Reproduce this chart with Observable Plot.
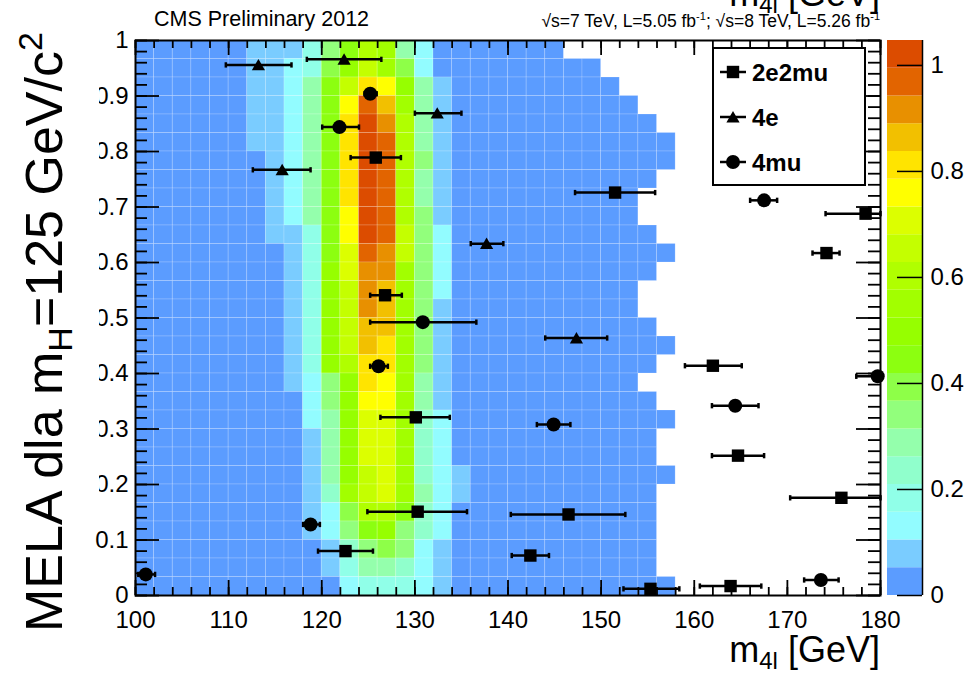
<!DOCTYPE html>
<html><head><meta charset="utf-8">
<script src="https://cdn.jsdelivr.net/npm/d3@7"></script>
<script src="https://cdn.jsdelivr.net/npm/@observablehq/plot@0.6"></script>
<style>
body{margin:0;background:#fff;}
#wrap{position:relative;width:971px;height:674px;overflow:hidden;font-family:"Liberation Sans",Arial,Helvetica,sans-serif;}
#wrap svg{position:absolute;top:0;}
</style></head><body><div id="wrap"></div>
<script>
// ---------- DATA ----------
// colour bands (20 contours) of the 2D template, bottom to top
const bandColors = ["#5b9cff","#7accff","#92fcff","#90ffe8","#90ffcc","#94ffac","#92ff7c","#8eff48","#8cff10","#96ff00",
                    "#a2ff00","#b0ff00","#c4ff00","#dcff00","#ffff00","#ffe400","#f2c000","#e89000","#e26400","#dc4c00"];
const bandEdges = [0,0.0524,0.1047,0.1571,0.2094,0.2618,0.3141,0.3665,0.4188,0.4712,0.5235,
                   0.5759,0.6282,0.6806,0.7329,0.7853,0.8376,0.8900,0.9423,0.9947,1.047];
// band index (base-20 digit) of each bin for m4l bins 110..136 GeV (2 GeV wide),
// MELA rows from top (0.967-1) to bottom (0-0.033)
const coreBinsFrom = 110;
const coreRows = [
 "0111368ba5200","0112379ca7200","011258cfe9510","011258eiga510","011258fjhb510","011258fjib510",
 "001258fjib610","001258fjib510","001258fjib510","001258ejib610","001138ejic620","000138dihc620",
 "000139dhha620","000139chga620","000139chga610","000139cgga610","000139cgfa610","000139bffa610",
 "0001269fea510","0000269eea510","0000259dda420","0000159dda420","0000159dda420","0000159cda421",
 "000014acda521","0000127bb8420","0000126896420","0000014676210","0000013554210","0000002333210"];
// upper m4l edge of the filled (non-empty) region in each row, top to bottom
const filledTo = [146,150,152,154,156,158,158,156,154,154,156,158,156,154,154,156,158,156,154,156,158,156,156,158,156,156,156,156,156,158];

// events: [m4l, MELA, m4l error low, m4l error high]
const ev2e2mu = [[125.8,0.789,123.1,128.5],[126.8,0.541,125.2,128.6],[151.5,0.726,147.2,155.8],[178.4,0.688,174.1,180],
  [174.2,0.617,172.7,175.6],[162.0,0.414,159.0,165.1],[164.7,0.252,161.9,167.5],[175.8,0.176,170.3,180],
  [146.5,0.146,140.3,152.6],[142.4,0.072,140.4,144.4],[155.3,0.012,152.4,158.4],[163.9,0.017,160.6,167.2],
  [130.1,0.321,126.3,133.75],[130.3,0.151,124.9,135.6],[122.55,0.080,119.6,125.5]];
const ev4e = [[113.2,0.956,109.7,116.75],[122.4,0.966,118.4,126.4],[132.4,0.869,130.0,135.0],[115.75,0.767,112.6,118.8],
  [137.7,0.634,136.0,139.5],[147.35,0.464,144.0,150.65]];
const ev4mu = [[125.2,0.904,124.6,125.9],[121.9,0.844,120.05,124.0],[130.85,0.4925,125.2,136.6],[167.5,0.712,166.0,168.9],
  [126.1,0.413,125.2,127.1],[179.7,0.395,177.4,180],[164.4,0.342,161.9,166.9],[144.9,0.308,143.1,146.7],
  [118.8,0.128,118.0,119.8],[101.1,0.038,100.3,102.1],[173.6,0.028,171.8,175.5]];

const xTicks = [100,110,120,130,140,150,160,170,180];
const yTicks = [0,0.1,0.2,0.3,0.4,0.5,0.6,0.7,0.8,0.9,1];
const zTicks = [0,0.2,0.4,0.6,0.8,1];
const channels = ["2e2mu","4e","4mu"];

// ---------- BUILD ----------
const FONT = '"Liberation Sans", Arial, Helvetica, sans-serif';
const mBinEdges = d3.range(100, 182, 2);
const nRows = coreRows.length;
const cells = [];
coreRows.forEach((s, r) => {
  const y2 = 1 - r / nRows, y1 = 1 - (r + 1) / nRows;
  for (let i = 0; i < mBinEdges.length - 1; i++) {
    const x1 = mBinEdges[i], x2 = mBinEdges[i + 1];
    if (x2 > filledTo[r]) continue;
    const j = (x1 - coreBinsFrom) / 2;
    const level = (j >= 0 && j < s.length) ? parseInt(s[j], 20) : 0;
    cells.push({x1, x2, y1, y2, level});
  }
});
const toObj = ch => a => ({ch, x: a[0], y: a[1], lo: a[2], hi: a[3]});
const events = [...ev2e2mu.map(toObj("2e2mu")), ...ev4e.map(toObj("4e")), ...ev4mu.map(toObj("4mu"))];
const capSymbol = {draw(ctx, size) { const h = Math.sqrt(size) / 2; ctx.moveTo(0, -h); ctx.lineTo(0, h); }};

const W = 971, H = 674, mL = 135, mR = 91, mT = 40, mB = 79;
const iW = W - mL - mR, iH = H - mT - mB;
const fmt = d3.format("~g");
const colorScale = {type: "ordinal", domain: d3.range(20), range: bandColors};
const tk = {stroke: "black", strokeWidth: 1.8};

const main = Plot.plot({
  width: W, height: H, marginLeft: mL, marginRight: mR, marginTop: mT, marginBottom: mB,
  style: {fontFamily: FONT, fontSize: "24px", color: "black", background: "transparent", overflow: "visible"},
  x: {domain: [100, 180], ticks: xTicks, tickSize: 0, tickPadding: 15, tickFormat: fmt, label: null},
  y: {domain: [0, 1], ticks: yTicks, tickSize: 0, tickPadding: 7, tickFormat: fmt, label: null},
  color: colorScale,
  symbol: {domain: channels, range: ["square", "triangle", "circle"]},
  marks: [
    Plot.rect(cells, {x1: "x1", x2: "x2", y1: "y1", y2: "y2", fill: "level", stroke: "white", strokeOpacity: 0.22, strokeWidth: 0.8}),
    Plot.ruleX(d3.range(100, 181, 2), {insetTop: iH - 8, ...tk}),
    Plot.ruleX(xTicks, {insetTop: iH - 15, ...tk}),
    Plot.ruleX(d3.range(100, 181, 2), {insetBottom: iH - 8, ...tk}),
    Plot.ruleX(xTicks, {insetBottom: iH - 15, ...tk}),
    Plot.ruleY(d3.range(0, 51).map(i => i / 50), {insetRight: iW - 12, ...tk}),
    Plot.ruleY(yTicks, {insetRight: iW - 24, ...tk}),
    Plot.ruleY(d3.range(0, 51).map(i => i / 50), {insetLeft: iW - 12, ...tk}),
    Plot.ruleY(yTicks, {insetLeft: iW - 24, ...tk}),
    Plot.frame({stroke: "black", strokeWidth: 2}),
    Plot.ruleY(events, {y: "y", x1: "lo", x2: "hi", stroke: "black", strokeWidth: 2.5}),
    Plot.dot(events, {x: "lo", y: "y", symbol: () => capSymbol, r: 3, stroke: "black", strokeWidth: 2.5, fill: "none"}),
    Plot.dot(events, {x: "hi", y: "y", symbol: () => capSymbol, r: 3, stroke: "black", strokeWidth: 2.5, fill: "none"}),
    Plot.dot(events.filter(d => d.ch === "2e2mu"), {x: "x", y: "y", symbol: "ch", r: 7, fill: "black", stroke: "none"}),
    Plot.dot(events.filter(d => d.ch === "4e"), {x: "x", y: "y", symbol: "ch", r: 4.9, dy: 1.6, fill: "black", stroke: "none"}),
    Plot.dot(events.filter(d => d.ch === "4mu"), {x: "x", y: "y", symbol: "ch", r: 7, fill: "black", stroke: "none"})
  ]
});

const bands = bandColors.map((c, i) => ({lo: bandEdges[i], hi: bandEdges[i + 1], level: i}));
const cbar = Plot.plot({
  width: 91, height: H, marginLeft: 7, marginRight: 49, marginTop: mT, marginBottom: mB,
  style: {fontFamily: FONT, fontSize: "24px", color: "black", background: "transparent", overflow: "visible"},
  x: {domain: [0, 1], axis: null},
  y: {domain: [0, bandEdges[bandEdges.length - 1]], axis: "right", ticks: zTicks, tickSize: 0, tickPadding: 8, tickFormat: fmt, label: null},
  color: colorScale,
  marks: [
    Plot.rect(bands, {x1: () => 0, x2: () => 1, y1: "lo", y2: "hi", fill: "level"}),
    Plot.ruleY(zTicks, {insetLeft: 10, stroke: "black", strokeWidth: 1.5}),
    Plot.ruleX([1], {stroke: "black", strokeWidth: 1.5})
  ]
});

const wrap = document.getElementById("wrap");
main.style.left = "0px";
cbar.style.left = "880px";
wrap.appendChild(main);
wrap.appendChild(cbar);

// ---------- TEXT OVERLAY (titles, labels, legend) ----------
const ov = d3.create("svg").attr("width", W).attr("height", H).style("left", "0px").style("font-family", FONT);
// white box under the y-axis title
ov.append("rect").attr("x", 0).attr("y", 0).attr("width", 99).attr("height", 512).attr("fill", "white");
const yt = ov.append("text").attr("transform", "translate(62,632) rotate(-90)").attr("font-size", 52).attr("fill", "black");
yt.append("tspan").text("MELA dla m");
yt.append("tspan").attr("font-size", 34).attr("dy", 10).text("H");
yt.append("tspan").attr("dy", -10).text("=125 GeV/c");
yt.append("tspan").attr("font-size", 34).attr("dy", -20).text("2");

function xTitle(y) {
  const t = ov.append("text").attr("x", 880).attr("y", y).attr("text-anchor", "end").attr("font-size", 36).attr("fill", "black");
  t.append("tspan").text("m");
  t.append("tspan").attr("font-size", 24).attr("dy", 7).text("4l");
  t.append("tspan").attr("dy", -7).text(" [GeV]");
}
xTitle(662);
xTitle(6);

ov.append("text").attr("x", 154).attr("y", 26).attr("font-size", 21.5).text("CMS Preliminary 2012");
const hd = ov.append("text").attr("x", 880).attr("y", 27).attr("text-anchor", "end").attr("font-size", 17.5);
hd.append("tspan").text("\u221As=7 TeV, L=5.05 fb");
hd.append("tspan").attr("font-size", 11).attr("dy", -7).text("-1");
hd.append("tspan").attr("dy", 7).text("; \u221As=8 TeV, L=5.26 fb");
hd.append("tspan").attr("font-size", 11).attr("dy", -7).text("-1");

// legend
const lg = ov.append("g");
lg.append("rect").attr("x", 713).attr("y", 48).attr("width", 152).attr("height", 137).attr("fill", "white").attr("stroke", "black").attr("stroke-width", 2);
const symMap = {"2e2mu": d3.symbolSquare, "4e": d3.symbolTriangle, "4mu": d3.symbolCircle};
const symR = {"2e2mu": 7, "4e": 4.9, "4mu": 7};
const symDy = {"2e2mu": 0, "4e": 1.6, "4mu": 0};
channels.forEach((c, i) => {
  const y = 72 + i * 45;
  lg.append("line").attr("x1", 720).attr("x2", 746).attr("y1", y).attr("y2", y).attr("stroke", "black").attr("stroke-width", 2.5);
  lg.append("path").attr("d", d3.symbol(symMap[c], Math.PI * symR[c] * symR[c])()).attr("transform", `translate(733,${y + symDy[c]})`).attr("fill", "black");
  lg.append("text").attr("x", 752).attr("y", y + 9).attr("font-size", 24).attr("font-weight", "bold").text(c);
});
wrap.appendChild(ov.node());
</script>
</body></html>
